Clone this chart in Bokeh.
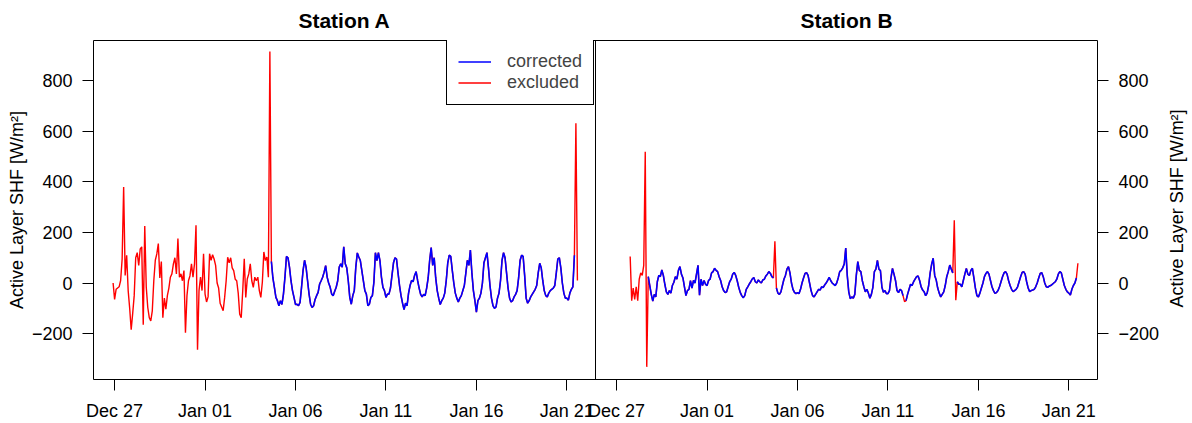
import math
import numpy as np
import pandas as pd
from bokeh.plotting import figure
from bokeh.layouts import row
from bokeh.models import (Range1d, LinearAxis, FixedTicker, Span, Legend, Label,
                          LegendItem, ColumnDataSource)
from bokeh.embed import file_html
from bokeh.resources import INLINE

FONT = "Liberation Sans"

# ---------------------------------------------------------------------------
# Active layer soil heat flux, 2-hourly records [W/m²]
# ---------------------------------------------------------------------------
station_a_start = "2016-12-26 22:00"
shf_a = [
    0,
    -65, -25, -20, -15, 10, 95, 380, 30, 110, -30, -100, -185,          # Dec 27
    -120, -50, 100, 120, 70, 135, 143, -165, 226, -17, -97, -137,       # Dec 28
    -150, -110, 9, 90, 115, 156, 20, 85, -137, -60, -104, -50,          # Dec 29
    -20, 23, 36, 76, 100, 36, 176, 23, 36, 9, 49, -197,                 # Dec 30
    -50, 9, 29, 76, 23, 76, 229, -264, -30, 23, -30, 116,               # Dec 31
    -44, -75, -55, 116, 90, 112, 95, 70, 0, -20, -80, -95,              # Jan 01
    -110, -57, 9, 102, 80, 100, 60, 49, 15, 9, -40, -124,               # Jan 02
    -137, -30, 96, -57, 16, 36, 76, 9, -17, 23, 9, 23,                  # Jan 03
    -30, -57, 3, 123, 89, 103, 23, 916, 85, 20, -17, -57,               # Jan 04
    -70, -90, -70, -85, -44, 23, 105, 100, 63, 9, -30, -57,             # Jan 05
    -85, -84, -90, -77, -17, 49, 90, 63, 9, -44, -84, -97,              # Jan 06
    -90, -65, -50, -37, -4, 9, 23, 43, 69, 23, 0, -17,                  # Jan 07
    -44, -50, -33, -17, 9, 63, 76, 63, 143, 76, 60, 9,                  # Jan 08
    -57, -84, -50, -30, 63, 119, 103, 89, 49, 9, -30, -44,              # Jan 09
    -90, -84, -57, -50, 3, 120, 89, 120, 89, 23, -17, -30,              # Jan 10
    -57, -44, -44, -20, 30, 80, 100, 95, 40, -10, -50, -80,             # Jan 11
    -105, -80, -90, -40, -10, 10, 5, 30, 45, 10, -20, -45,              # Jan 12
    -55, -45, -50, -20, 20, 90, 140, 70, 100, 20, -30, -60,             # Jan 13
    -85, -70, -60, -40, 10, 80, 110, 105, 50, 0, -40, -60,              # Jan 14
    -75, -60, -50, -30, -10, 40, 90, 70, 130, 40, -30, -70,             # Jan 15
    -115, -70, -60, -40, 0, 80, 100, 120, 60, -10, -60, -90,            # Jan 16
    -100, -95, -60, -40, 10, 90, 120, 100, 40, -20, -60, -75,           # Jan 17
    -70, -55, -45, -30, 20, 90, 110, 105, 30, -60, -80, -70,            # Jan 18
    -55, -45, -35, -25, -10, 40, 78, 60, 10, -30, -50, -55,             # Jan 19
    -40, -30, -25, -20, -10, 40, 95, 100, 60, 0, -40, -60,              # Jan 20
    -60, -68, -40, -25, -15, 110, 632, 10,                              # Jan 21
]

station_b_start = "2016-12-27 18:00"
shf_b = [
    105, -70, -20,                                                      # Dec 27
    -65, -15, -70, 15, 40, 30, 70, 520, -332, 25, -10, -45,             # Dec 28
    -72, -45, -55, 5, 30, 25, 52, 30, -5, -35, -45, -30,                # Dec 29
    -40, -10, 3, 25, 15, 50, 65, 35, 20, -15, -50, -30,                 # Dec 30
    -25, 9, -20, 10, 0, 35, 70, -48, 15, -10, 10, -5,                   # Dec 31
    -10, 10, 15, 40, 45, 58, 50, 45, 25, 10, -15, -30,                  # Jan 01
    -38, -35, -15, 5, 15, 35, 42, 30, 9, -17, -37, -50,                 # Jan 02
    -58, -50, -25, -15, -4, 5, 16, 22, 5, 0, 12, 5,                     # Jan 03
    0, 12, 15, 28, 35, 45, 38, 25, 20, 165, -20, -40,                   # Jan 04
    -45, -35, -10, 15, 30, 55, 65, 40, 0, -25, -37, -42,                # Jan 05
    -38, -42, -25, 0, 20, 38, 41, 30, 0, -30, -50, -55,                 # Jan 06
    -45, -35, -25, -28, -15, -18, -8, 0, 10, 22, 10, 0,                 # Jan 07
    -5, -10, 0, 20, 45, 50, 60, 75, 138, 30, -35, -62,                  # Jan 08
    -55, -60, -45, 30, 85, 50, 45, 9, -15, -35, -25, -40,               # Jan 09
    -60, -45, -17, 45, 55, 90, 55, 49, -17, -37, -30, -42,              # Jan 10
    -42, -30, 20, 58, 35, 10, -30, -38, -25, -30, -50, -74,             # Jan 11
    -70, -45, -25, -5, -10, 5, 15, 25, 28, 10, -15, -28,                # Jan 12
    -35, -50, -40, -10, 40, 75, 98, 30, 12, -20, -40, -55,              # Jan 13
    -45, -35, -10, 25, 45, 71, 55, 40, 248, -68, 5, -5,                 # Jan 14
    -5, -15, 10, 35, 58, 35, 30, 50, 58, 20, -20, -50,                  # Jan 15
    -55, -40, -20, 0, 25, 38, 45, 35, 10, -15, -30, -41,                # Jan 16
    -38, -30, -15, 5, 25, 40, 45, 35, 10, -10, -25, -34,                # Jan 17
    -30, -25, -15, 5, 25, 42, 45, 35, 5, -20, -34, -30,                 # Jan 18
    -28, -25, -15, 0, 20, 38, 41, 25, 0, -15, -17, -12,                 # Jan 19
    -10, -5, 0, 5, 15, 35, 45, 40, 15, -10, -25, -35,                   # Jan 20
    -40, -48, -25, -10, 0, 20, 78,                                      # Jan 21
]

# quality-control flags: periods excluded from the corrected series
excluded_a = [("2016-12-26 22:00", "2017-01-04 14:00"),
              ("2017-01-21 12:00", "2017-01-21 14:00")]
excluded_b = [("2016-12-27 18:00", "2016-12-28 16:00"),
              ("2017-01-04 18:00", "2017-01-04 18:00"),
              ("2017-01-11 22:00", "2017-01-11 22:00"),
              ("2017-01-14 16:00", "2017-01-14 18:00"),
              ("2017-01-21 12:00", "2017-01-21 12:00")]

tick_dates = ["2016-12-27", "2017-01-01", "2017-01-06",
              "2017-01-11", "2017-01-16", "2017-01-21"]
y_ticks = [-200, 0, 200, 400, 600, 800]
titles = ["Station A", "Station B"]
y_label = "Active Layer SHF [W/m²]"

# ---------------------------------------------------------------------------
# layout: two panels share one frame, each panel spans PANEL_H hours;
# a narrow strip on the far right carries the right-hand axis title
# ---------------------------------------------------------------------------
ORIGIN = pd.Timestamp("2016-12-27 00:00")
PANEL_H = 666
X0 = -28
Y0, Y1 = -382, 960
W, H = 1192, 423
STRIP_W = 30
B_LEFT, B_RIGHT, B_TOP, B_BOTTOM = 93, 93 - STRIP_W, 40, 44


def to_hours(ts):
    return np.asarray((pd.DatetimeIndex(ts) - ORIGIN) / pd.Timedelta(hours=1), dtype=float)


def station_source(start, values, excluded, shift):
    t = pd.date_range(start, periods=len(values), freq="2h")
    raw = np.asarray(values, dtype=float)
    flag = np.zeros(len(t), dtype=bool)
    for a, b in excluded:
        flag |= (t >= pd.Timestamp(a)) & (t <= pd.Timestamp(b))
    corrected = np.where(flag, np.nan, raw)
    return ColumnDataSource(dict(x=to_hours(t) + shift, raw=raw, corrected=corrected))


p = figure(width=W - STRIP_W, height=H, output_backend="svg", toolbar_location=None,
           x_range=Range1d(X0, X0 + 2 * PANEL_H), y_range=Range1d(Y0, Y1),
           x_axis_type=None, y_axis_type=None,
           min_border_left=B_LEFT, min_border_right=B_RIGHT,
           min_border_top=B_TOP, min_border_bottom=B_BOTTOM)
p.background_fill_color = "white"
p.border_fill_color = "white"
p.outline_line_color = "black"
p.outline_line_width = 1
p.outline_line_alpha = 1.0


def style_axis(ax):
    ax.axis_line_color = None
    ax.major_tick_line_color = "black"
    ax.major_tick_line_width = 1
    ax.major_tick_out = 11
    ax.major_tick_in = 0
    ax.minor_tick_line_color = None
    ax.major_label_text_font = FONT
    ax.major_label_text_font_size = "18px"
    ax.major_label_text_color = "black"
    ax.major_label_standoff = 10
    ax.axis_label_text_font = FONT
    ax.axis_label_text_font_size = "18px"
    ax.axis_label_text_font_style = "normal"
    ax.axis_label_text_color = "black"


# x axis: date ticks for both panels
tick_h = [int(round(h)) for h in to_hours(tick_dates)]
x_ticks = tick_h + [h + PANEL_H for h in tick_h]
x_names = [pd.Timestamp(d).strftime("%b %d") for d in tick_dates] * 2
xaxis = LinearAxis(ticker=FixedTicker(ticks=x_ticks),
                   major_label_overrides=dict(zip(x_ticks, x_names)))
style_axis(xaxis)
p.add_layout(xaxis, "below")

# panel titles, centred over each panel
centres = [X0 + PANEL_H // 2, X0 + PANEL_H + PANEL_H // 2]
title_axis = LinearAxis(ticker=FixedTicker(ticks=centres),
                        major_label_overrides=dict(zip(centres, titles)))
style_axis(title_axis)
title_axis.major_tick_line_color = None
title_axis.major_tick_out = 0
title_axis.major_label_standoff = 9
title_axis.major_label_text_font_size = "21px"
title_axis.major_label_text_font_style = "bold"
p.add_layout(title_axis, "above")

# y axes on both outer sides
y_names = {v: (f"\u2212{abs(v)}" if v < 0 else str(v)) for v in y_ticks}
for side in ("left", "right"):
    yax = LinearAxis(ticker=FixedTicker(ticks=y_ticks), major_label_overrides=y_names,
                     axis_label=(y_label if side == "left" else None))
    style_axis(yax)
    yax.axis_label_standoff = 2
    p.add_layout(yax, side)

# panel divider
p.add_layout(Span(location=X0 + PANEL_H, dimension="height",
                  line_color="black", line_width=1))

# series: raw record in red underneath, corrected record in blue on top
src_a = station_source(station_a_start, shf_a, excluded_a, 0)
src_b = station_source(station_b_start, shf_b, excluded_b, PANEL_H)
lines = []
for src in (src_a, src_b):
    red = p.line("x", "raw", source=src, line_color="#ff0000", line_width=1.4)
    blue = p.line("x", "corrected", source=src, line_color="#0000ff", line_width=1.6)
    lines.append((red, blue))

legend = Legend(items=[LegendItem(label="corrected", renderers=[lines[0][1]]),
                       LegendItem(label="excluded", renderers=[lines[0][0]])],
                location=(353, 274), orientation="vertical",
                border_line_color="black", border_line_width=1, border_line_alpha=1.0,
                background_fill_color="white", background_fill_alpha=1.0,
                padding=11, spacing=0, margin=0,
                glyph_width=33, glyph_height=21, label_height=21, label_standoff=16,
                label_text_font=FONT, label_text_font_size="18px")
p.add_layout(legend)

# right-hand axis title, reading bottom to top like the left one
strip = figure(width=STRIP_W, height=H, output_backend="svg", toolbar_location=None,
               x_range=Range1d(0, STRIP_W), y_range=Range1d(0, H),
               x_axis_type=None, y_axis_type=None,
               min_border_left=0, min_border_right=0, min_border_top=0, min_border_bottom=0)
strip.outline_line_color = None
strip.background_fill_color = "white"
strip.border_fill_color = "white"
frame_mid = H - (B_TOP + (H - B_TOP - B_BOTTOM) / 2)
strip.add_layout(Label(x=14, y=frame_mid, text=y_label, angle=math.pi / 2,
                       text_align="center", text_baseline="middle",
                       text_font=FONT, text_font_size="18px", text_color="black"))

layout = row(p, strip, spacing=0)
open("out.html", "w").write(file_html(layout, INLINE))
